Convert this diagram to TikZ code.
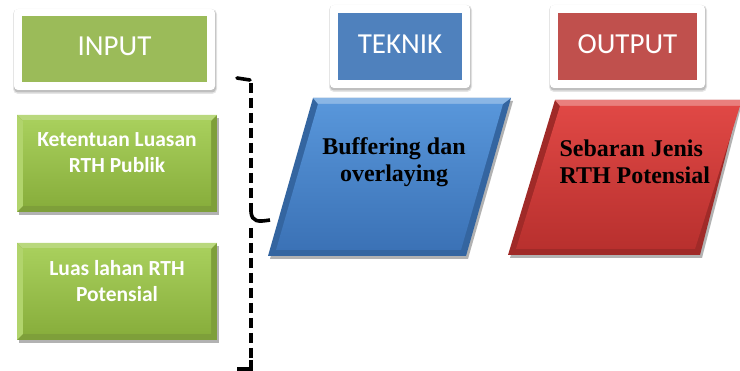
\documentclass[tikz,border=0pt]{standalone}
\usepackage{fontspec}
\setmainfont{Liberation Serif}
\newfontfamily\calib{Carlito}
\usetikzlibrary{calc}
\definecolor{hgreen}{HTML}{9BBB59}
\definecolor{hblue}{HTML}{4F81BD}
\definecolor{hred}{HTML}{C0504D}
\definecolor{gtop}{HTML}{A8CF5C}
\definecolor{gbot}{HTML}{88AE3C}
\definecolor{gedge}{HTML}{7E9F3A}
\definecolor{btop}{HTML}{5896DA}
\definecolor{bbot}{HTML}{3B72B6}
\definecolor{bedge}{HTML}{3465A0}
\definecolor{rtop}{HTML}{E04845}
\definecolor{rbot}{HTML}{B8302E}
\definecolor{redge}{HTML}{A02A28}
\tikzset{
  headtxt/.style={text=white, font=\calib\fontsize{29}{34}\selectfont},
  boxtxt/.style={text=white, font=\calib\bfseries\fontsize{21.5}{26}\selectfont, align=center},
  partxt/.style={text=black, font=\bfseries\fontsize{24}{27}\selectfont},
  brack/.style={line width=3.6pt, dash pattern=on 10pt off 5pt},
  brackline/.style={line width=3.6pt}
}
\newcommand{\hframe}[4]{%
  \fill[black!10, rounded corners=5pt] (#1-1,#2) rectangle (#3+2,#4+4);
  \fill[black!25, rounded corners=4pt] (#1,#2+1) rectangle (#3+1,#4+2.5);
  \fill[white, rounded corners=4pt] (#1,#2) rectangle (#3,#4);
}
\begin{document}
\begin{tikzpicture}[x=1pt,y=-1pt]
\useasboundingbox (0,0) rectangle (740,371);
% header frames
\hframe{14}{9}{215}{90}
\fill[hgreen] (22,16) rectangle (207,82);
\node[headtxt] (hin) at (114.5,46) {INPUT};
\hframe{330}{5}{470}{88}
\fill[hblue] (338,13) rectangle (462,80);
\node[headtxt] (htek) at (400,44) {TEKNIK};
\hframe{550}{5}{705}{88}
\fill[hred] (558,13) rectangle (697,80);
\node[headtxt] (hout) at (627.5,44) {OUTPUT};
% green boxes
\foreach \yt/\yb in {115/212, 243/340}{
  \fill[black,opacity=0.3] (19,\yt+3) rectangle (219,\yb+3);
  \fill[gedge] (17,\yt) rectangle (217,\yb);
  \fill[gtop!80!white] (17,\yt) -- (217,\yt) -- (211,\yt+6) -- (23,\yt+6) -- cycle;
  \fill[gtop!90!white] (17,\yt) -- (23,\yt+6) -- (23,\yb-6) -- (17,\yb) -- cycle;
  \shade[top color=gtop, bottom color=gbot] (23,\yt+6) rectangle (211,\yb-6);
}
\node[boxtxt] (k1) at (117,153) {Ketentuan Luasan\\RTH Publik};
\node[boxtxt] (k2) at (117,281) {Luas lahan RTH\\Potensial};
% blue parallelogram
\fill[black,opacity=0.3] (315,101) -- (513,101) -- (468,259) -- (270,259) -- cycle;
\fill[bedge] (313,98) -- (511,98) -- (466,256) -- (268,256) -- cycle;
\fill[btop!70!white] (313,98) -- (511,98) -- (503,104) -- (318,104) -- cycle;
\shade[top color=btop, bottom color=bbot] (318,104) -- (503,104) -- (461,250) -- (276,250) -- cycle;
\node[partxt, align=center] (tek) at (394,162) {Buffering dan\\overlaying};
% red parallelogram
\fill[black,opacity=0.3] (557,103) -- (742,103) -- (702,258) -- (510,258) -- cycle;
\fill[redge] (555,100) -- (740,100) -- (700,255) -- (508,255) -- cycle;
\fill[rtop!70!white] (555,100) -- (740,100) -- (740,106) -- (560,106) -- cycle;
\shade[top color=rtop, bottom color=rbot] (560,106) -- (740,106) -- (695,249) -- (516,249) -- cycle;
\node[partxt, align=left, anchor=west] (out) at (556,162) {Sebaran Jenis\\RTH Potensial};
% bracket
\draw[brackline, line cap=round] (237,78) -- (250,80);
\draw[brack] (251,83) -- (251,212);
\draw[brackline] (251,212) .. controls (252,222) and (258,222) .. (270,220);
\draw[brack] (251,228) -- (251,360);
\draw[brackline] (251,360) -- (251,369) -- (237,369);
\end{tikzpicture}
\end{document}
